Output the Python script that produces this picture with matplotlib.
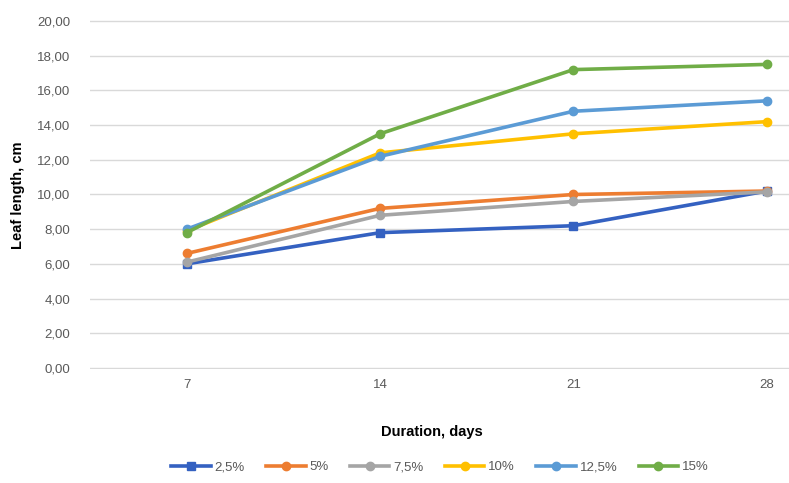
import matplotlib
matplotlib.use("Agg")
import matplotlib.pyplot as plt

# Chart data
days = [7, 14, 21, 28]
series_labels = ["2,5%", "5%", "7,5%", "10%", "12,5%", "15%"]
conc_2_5 = [6.0, 7.8, 8.2, 10.2]
conc_5 = [6.6, 9.2, 10.0, 10.2]
conc_7_5 = [6.1, 8.8, 9.6, 10.15]
conc_10 = [7.9, 12.4, 13.5, 14.2]
conc_12_5 = [8.0, 12.2, 14.8, 15.4]
conc_15 = [7.8, 13.5, 17.2, 17.5]
y_ticks = [0, 2, 4, 6, 8, 10, 12, 14, 16, 18, 20]

COLORS = ["#3461C1", "#ED7D31", "#A5A5A5", "#FFC000", "#5B9BD5", "#70AD47"]
MARKERS = ["s", "o", "o", "o", "o", "o"]

plt.rcParams["font.family"] = ["Liberation Sans", "DejaVu Sans"]

fig = plt.figure(figsize=(7.89, 4.83), dpi=100)
ax = fig.add_axes([90 / 789, 1 - 369 / 483, 1 - 90 / 789, (369 - 20) / 483])

all_series = [conc_2_5, conc_5, conc_7_5, conc_10, conc_12_5, conc_15]
for vals, lab, col, mk in zip(all_series, series_labels, COLORS, MARKERS):
    ax.plot(days, vals, color=col, marker=mk, markersize=6, linewidth=2.6,
            label=lab, zorder=3)

ax.set_xlim(3.5, 28.8)
ax.set_ylim(-0.06, 20.06)
ax.set_xticks(days)
ax.set_xticklabels([str(d) for d in days])
ax.set_yticks(y_ticks)
ax.set_yticklabels([f"{v:.2f}".replace(".", ",") for v in y_ticks])
ax.grid(True, axis="y", color="#d9d9d9", linewidth=1.0, zorder=0)
for s in ax.spines.values():
    s.set_visible(False)
ax.tick_params(length=0, colors="#595959", labelsize=9.5)
ax.tick_params(axis="y", pad=14)
ax.tick_params(axis="x", pad=7)

fig.text(18 / 789, 1 - 195 / 483, "Leaf length, cm", rotation=90, ha="center",
         va="center", fontsize=10.5, fontweight="bold")
fig.text(432 / 789, 1 - 432 / 483, "Duration, days", ha="center", va="center",
         fontsize=10.5, fontweight="bold")

fig.legend(loc="center", bbox_to_anchor=(440 / 789, 1 - 467 / 483), ncol=6,
           frameon=False, fontsize=9.5, handlelength=3.0, columnspacing=1.6,
           handletextpad=0.3, labelcolor="#595959")

fig.savefig("out.png", dpi=100)
